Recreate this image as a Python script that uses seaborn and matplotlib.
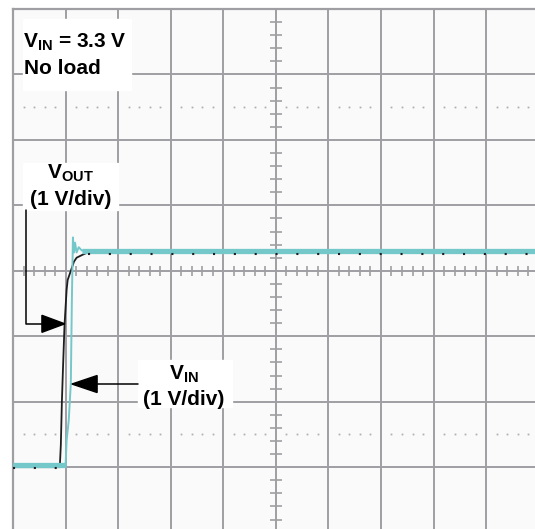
import matplotlib
matplotlib.use("Agg")
import matplotlib.pyplot as plt
from matplotlib.patches import Polygon, Rectangle
import numpy as np
import seaborn as sns

# time in horizontal divisions (screen centre = 0), voltage in volts at 1 V/div
vin_t = [-5.00, -4.00, -3.98, -3.94, -3.90, -3.88, -3.86, -3.84, -3.82, -3.79, -3.75, -3.69, 4.93]
vin_v = [0.00, 0.00, 0.38, 0.68, 1.25, 2.52, 3.48, 3.25, 3.40, 3.25, 3.33, 3.28, 3.28]
vout_t = [-5.00, -4.11, -4.09, -4.07, -4.05, -4.02, -3.98, -3.96, -3.90, -3.84, -3.79, -3.69, -3.58, 4.93]
vout_v = [0.00, 0.00, 0.34, 1.00, 1.49, 2.17, 2.71, 2.86, 3.00, 3.14, 3.20, 3.24, 3.28, 3.28]

# channel ground markers (divisions from screen centre)
vin_offset = -2.97
vout_offset = -3.00

label_cond = [r"$\mathbf{V_{IN}}$ = 3.3 V", "No load"]
label_vout = [r"$\mathbf{V_{OUT}}$", "(1 V/div)"]
label_vin = [r"$\mathbf{V_{IN}}$", "(1 V/div)"]

CYAN = "#74c8ca"
GRID = "#9f9fa3"

sns.set_style("white")
plt.rcParams["font.family"] = ["Liberation Sans", "DejaVu Sans"]
plt.rcParams["mathtext.fontset"] = "custom"
plt.rcParams["mathtext.rm"] = "Liberation Sans:bold"
plt.rcParams["mathtext.bf"] = "Liberation Sans:bold"

fig = plt.figure(figsize=(5.35, 5.29), dpi=100)
ax = fig.add_axes([13 / 535, 0, 522 / 535, 520 / 529])
ax.set_facecolor("#fafafa")
ax.set_xlim(-5, 4.93)
ax.set_ylim(-3.945, 4.0)

# graticule
ax.set_xticks(range(-5, 5))
ax.set_yticks(range(-3, 5))
ax.set_xticklabels([])
ax.set_yticklabels([])
ax.tick_params(length=0)
ax.grid(True, color=GRID, lw=1.4)
ax.set_axisbelow(True)
for side in ["left", "top"]:
    ax.spines[side].set_color(GRID)
    ax.spines[side].set_linewidth(1.6)
for side in ["right", "bottom"]:
    ax.spines[side].set_visible(False)

minor = [k * 0.2 for k in range(-25, 25) if k % 5 != 0]
minor_y = [k * 0.2 for k in range(-19, 20) if k % 5 != 0]
ax.hlines(minor_y, -0.115, 0.115, color=GRID, lw=1.2, zorder=1)
ax.vlines(minor, -0.076, 0.076, color=GRID, lw=1.2, zorder=1)
for yd in (2.5, -2.5):
    ax.plot(minor, [yd] * len(minor), ls="none", marker="s", ms=1.3,
            color="#b0b0b4", mec="none", zorder=1)

# traces
vin_y = np.array(vin_v) + vin_offset
vout_y = np.array(vout_v) + vout_offset
sns.lineplot(x=vout_t, y=vout_y, ax=ax, color="#1e1e1e", lw=1.3,
             sort=False, estimator=None, zorder=2)
sns.lineplot(x=vin_t, y=vin_y, ax=ax, color=CYAN, lw=1.4,
             sort=False, estimator=None, zorder=3)
for sl in (slice(0, 2), slice(-2, None)):
    ax.plot(vin_t[sl], vin_y[sl], color=CYAN, lw=3.8, solid_capstyle="butt", zorder=3)
for sl in (slice(0, 2), slice(-2, None)):
    ax.plot(vout_t[sl], vout_y[sl] - 0.02, color="#1e1e1e", lw=1.5,
            ls=(0, (1, 9)), zorder=3.5)

# annotation boxes
txt = dict(fontsize=15, fontweight="bold", color="black", zorder=6)
ax.add_patch(Rectangle((-4.81, 2.77), 2.05, 1.08, color="white", zorder=5))
ax.text(-4.81, 3.41, label_cond[0], ha="left", va="baseline", **txt)
ax.text(-4.80, 3.00, label_cond[1], ha="left", va="baseline", **txt)

ax.add_patch(Rectangle((-4.81, 0.93), 1.80, 0.72, color="white", zorder=5))
ax.text(-3.90, 1.41, label_vout[0], ha="center", va="baseline", **txt)
ax.text(-3.90, 1.01, label_vout[1], ha="center", va="baseline", **txt)

ax.add_patch(Rectangle((-2.63, -2.08), 1.79, 0.72, color="white", zorder=5))
ax.text(-1.75, -1.67, label_vin[0], ha="center", va="baseline", **txt)
ax.text(-1.75, -2.05, label_vin[1], ha="center", va="baseline", **txt)

# arrows
ax.plot([-4.757, -4.757, -4.45], [0.93, -0.81, -0.81], color="black", lw=1.1, zorder=6)
ax.add_patch(Polygon([(-4.015, -0.81), (-4.45, -0.68), (-4.45, -0.94)],
                     closed=True, color="black", zorder=6))
ax.plot([-2.63, -3.40], [-1.73, -1.73], color="black", lw=1.1, zorder=6)
ax.add_patch(Polygon([(-3.88, -1.73), (-3.40, -1.60), (-3.40, -1.86)],
                     closed=True, color="black", zorder=6))

fig.savefig("out.png", dpi=100)
